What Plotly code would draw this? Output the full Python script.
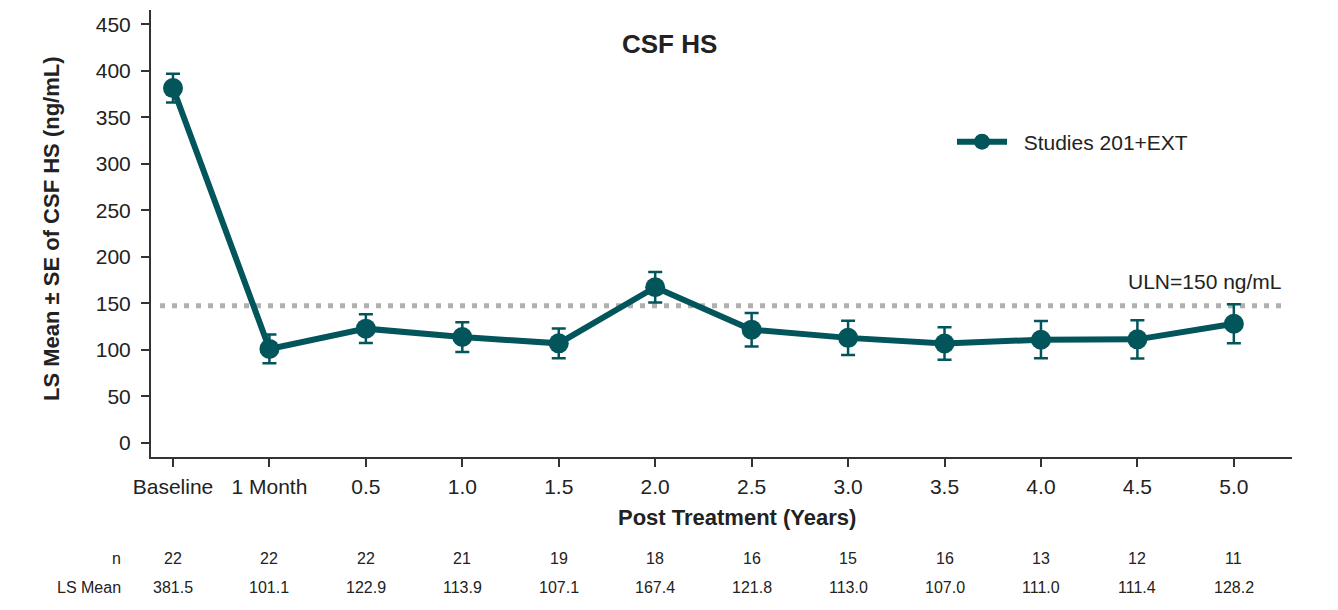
import plotly.graph_objects as go

categories = ["Baseline", "1 Month", "0.5", "1.0", "1.5", "2.0", "2.5", "3.0", "3.5", "4.0", "4.5", "5.0"]
n_values = [22, 22, 22, 21, 19, 18, 16, 15, 16, 13, 12, 11]
ls_mean = [381.5, 101.1, 122.9, 113.9, 107.1, 167.4, 121.8, 113.0, 107.0, 111.0, 111.4, 128.2]
se = [15.5, 15.5, 15.5, 16.0, 16.0, 16.5, 18.0, 18.5, 17.5, 20.0, 20.5, 21.0]
y_ticks = [0, 50, 100, 150, 200, 250, 300, 350, 400, 450]
uln_line = 147.5
series_name = "Studies 201+EXT"

TEAL = "#02555B"
FONT = "Arial, Liberation Sans, sans-serif"
TXT = "#222222"

xs = list(range(len(categories)))

fig = go.Figure()
fig.add_trace(go.Scatter(
    x=xs, y=ls_mean, mode="lines+markers", name="\u00a0\u00a0" + series_name,
    line=dict(color=TEAL, width=6),
    marker=dict(color=TEAL, size=20),
    error_y=dict(type="data", array=se, visible=True, color=TEAL, thickness=2.5, width=7),
))

# ULN reference line
fig.add_shape(type="line", xref="paper", yref="y",
              x0=(160 - 151) / 1141, x1=(1283 - 151) / 1141, y0=uln_line, y1=uln_line,
              line=dict(color="#b0b0b0", width=5, dash="5px,7px"), layer="below")

ann = []
ann.append(dict(text="<b>CSF HS</b>", xref="paper", yref="paper", x=(669 - 151) / 1141, y=(457 - 44) / 447,
                xanchor="center", yanchor="middle", showarrow=False, font=dict(size=26, color=TXT, family=FONT)))
ann.append(dict(text="ULN=150 ng/mL", xref="paper", yref="y", x=(1284 - 151) / 1141, y=174,
                xanchor="right", yanchor="middle", showarrow=False, font=dict(size=21, color=TXT, family=FONT)))
ann.append(dict(text="<b>Post Treatment (Years)</b>", xref="paper", yref="paper", x=(737 - 151) / 1141, y=(457 - 517) / 447,
                xanchor="center", yanchor="middle", showarrow=False, font=dict(size=22, color=TXT, family=FONT)))
ann.append(dict(text="<b>LS Mean ± SE of CSF HS (ng/mL)</b>", xref="paper", yref="paper", x=(52 - 151) / 1141, y=(457 - 229) / 447,
                xanchor="center", yanchor="middle", textangle=-90, showarrow=False, font=dict(size=22, color=TXT, family=FONT)))
row_y_n = (457 - 558) / 447
row_y_m = (457 - 587) / 447
ann.append(dict(text="n", xref="paper", yref="paper", x=(123 - 151) / 1141, y=row_y_n, xanchor="right", yanchor="middle",
                showarrow=False, font=dict(size=16, color=TXT, family=FONT)))
ann.append(dict(text="LS Mean", xref="paper", yref="paper", x=(123 - 151) / 1141, y=row_y_m, xanchor="right", yanchor="middle",
                showarrow=False, font=dict(size=16, color=TXT, family=FONT)))
for i, (nv, mv) in enumerate(zip(n_values, ls_mean)):
    ann.append(dict(text=str(nv), xref="x", yref="paper", x=i, y=row_y_n, xanchor="center", yanchor="middle",
                    showarrow=False, font=dict(size=16, color=TXT, family=FONT)))
    ann.append(dict(text=f"{mv:.1f}", xref="x", yref="paper", x=i, y=row_y_m, xanchor="center", yanchor="middle",
                    showarrow=False, font=dict(size=16, color=TXT, family=FONT)))

fig.update_layout(
    width=1338, height=610,
    margin=dict(l=151, r=46, t=10, b=153),
    paper_bgcolor="white", plot_bgcolor="white",
    font=dict(family=FONT, color=TXT),
    showlegend=True,
    legend=dict(x=(952 - 151) / 1141, y=(457 - 142) / 447, xanchor="left", yanchor="middle",
                font=dict(size=21, color=TXT, family=FONT), bgcolor="rgba(0,0,0,0)", itemwidth=50),
    annotations=ann,
    xaxis=dict(range=[-0.228, 11.603], tickvals=xs, ticktext=categories, showgrid=False, zeroline=False,
               showline=True, linecolor="#333333", linewidth=2, ticks="outside", ticklen=8, tickwidth=2,
               tickcolor="#333333", tickfont=dict(size=21, color=TXT, family=FONT), ticklabelstandoff=2),
    yaxis=dict(range=[-15.05, 465.4], tickvals=y_ticks, showgrid=False, zeroline=False,
               showline=True, linecolor="#333333", linewidth=2, ticks="outside", ticklen=8, tickwidth=2,
               tickcolor="#333333", tickfont=dict(size=21, color=TXT, family=FONT), ticklabelstandoff=6),
)

fig.write_html("out.html", post_script="document.body.style.margin='0';",
               config={"displayModeBar": False})
